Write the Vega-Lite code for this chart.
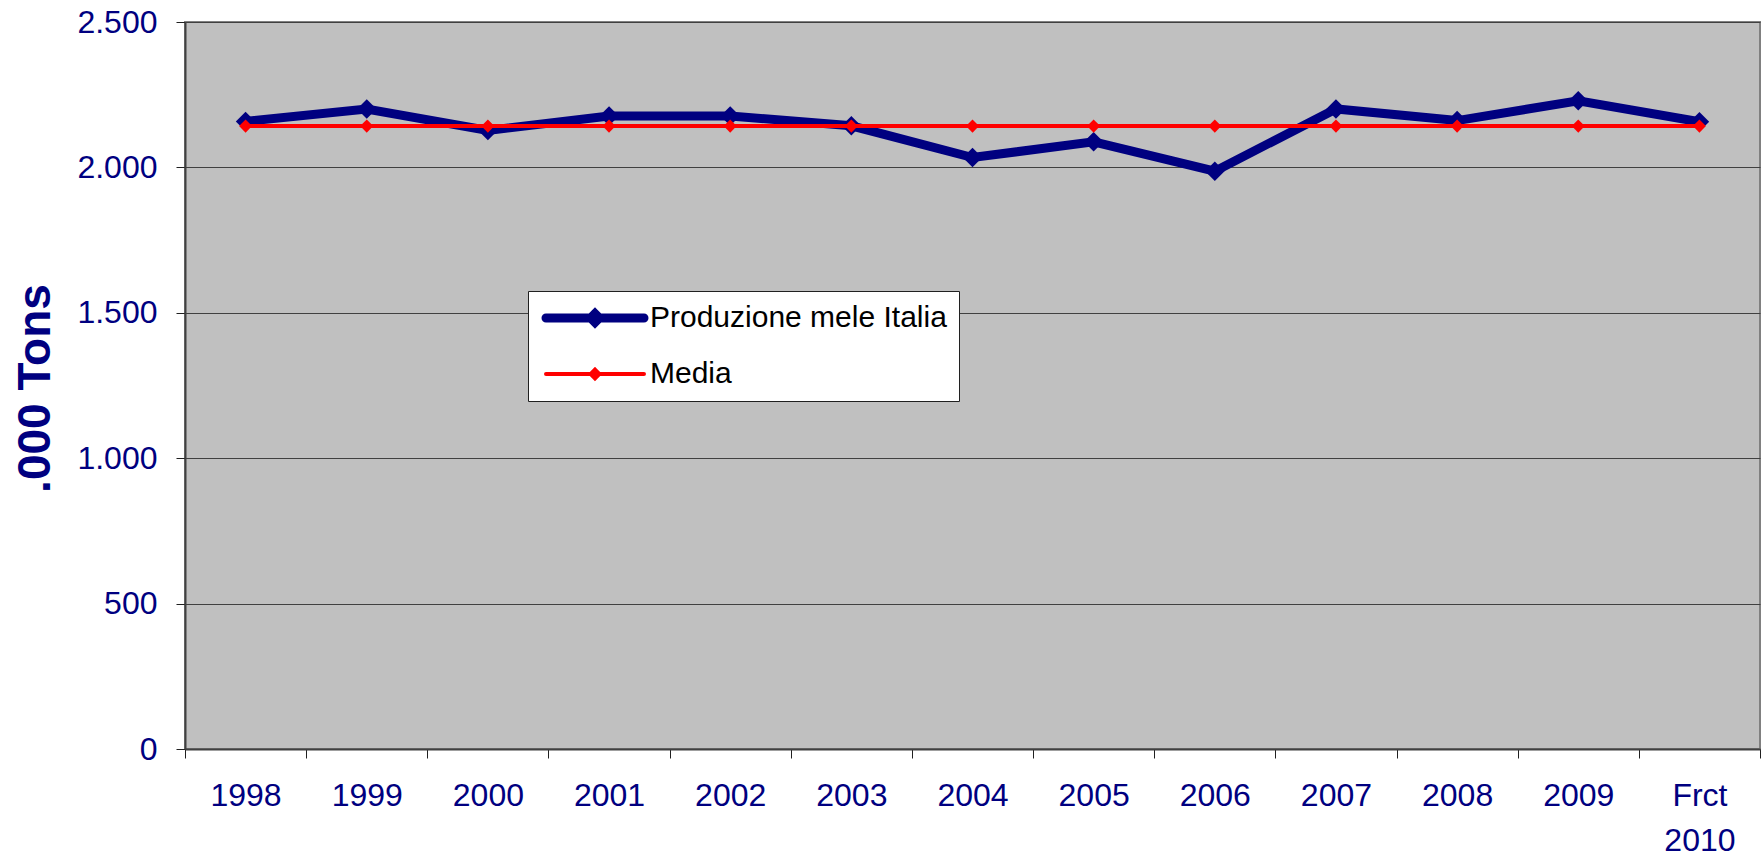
{
  "$schema": "https://vega.github.io/schema/vega-lite/v6.json",
  "autosize": "none",
  "width": 1575,
  "height": 727,
  "padding": {"left": 185, "top": 22, "right": 1, "bottom": 108},
  "background": "white",
  "config": {
    "font": "Liberation Sans",
    "view": {"fill": "#C0C0C0", "stroke": "#808080", "strokeWidth": 2}
  },
  "data": {
    "values": [
      {"year": "1998", "series": "Produzione mele Italia", "value": 2158},
      {"year": "1999", "series": "Produzione mele Italia", "value": 2201},
      {"year": "2000", "series": "Produzione mele Italia", "value": 2127},
      {"year": "2001", "series": "Produzione mele Italia", "value": 2177},
      {"year": "2002", "series": "Produzione mele Italia", "value": 2177},
      {"year": "2003", "series": "Produzione mele Italia", "value": 2143},
      {"year": "2004", "series": "Produzione mele Italia", "value": 2034},
      {"year": "2005", "series": "Produzione mele Italia", "value": 2088},
      {"year": "2006", "series": "Produzione mele Italia", "value": 1987},
      {"year": "2007", "series": "Produzione mele Italia", "value": 2201},
      {"year": "2008", "series": "Produzione mele Italia", "value": 2161},
      {"year": "2009", "series": "Produzione mele Italia", "value": 2229},
      {"year": "Frct 2010", "series": "Produzione mele Italia", "value": 2157},
      {"year": "1998", "series": "Media", "value": 2142},
      {"year": "1999", "series": "Media", "value": 2142},
      {"year": "2000", "series": "Media", "value": 2142},
      {"year": "2001", "series": "Media", "value": 2142},
      {"year": "2002", "series": "Media", "value": 2142},
      {"year": "2003", "series": "Media", "value": 2142},
      {"year": "2004", "series": "Media", "value": 2142},
      {"year": "2005", "series": "Media", "value": 2142},
      {"year": "2006", "series": "Media", "value": 2142},
      {"year": "2007", "series": "Media", "value": 2142},
      {"year": "2008", "series": "Media", "value": 2142},
      {"year": "2009", "series": "Media", "value": 2142},
      {"year": "Frct 2010", "series": "Media", "value": 2142}
    ]
  },
  "encoding": {
    "x": {
      "field": "year",
      "type": "nominal",
      "sort": null,
      "scale": {"type": "band", "paddingInner": 0, "paddingOuter": 0},
      "axis": {
        "title": null,
        "labelAngle": 0,
        "tickBand": "extent",
        "grid": false,
        "domain": true,
        "domainColor": "#404040",
        "domainWidth": 2,
        "tickColor": "#202020",
        "tickSize": 9,
        "tickWidth": 1,
        "labelColor": "#000080",
        "labelFontSize": 32,
        "labelFont": "Liberation Sans",
        "labelPadding": 22,
        "labelBaseline": "top",
        "labelLineHeight": 45,
        "labelExpr": "split(datum.label, ' ')"
      }
    },
    "y": {
      "field": "value",
      "type": "quantitative",
      "scale": {"domain": [0, 2500], "nice": false, "zero": true},
      "axis": {
        "values": [0, 500, 1000, 1500, 2000, 2500],
        "title": ".000 Tons",
        "titleFontSize": 46,
        "titleFontWeight": "bold",
        "titleColor": "#000080",
        "titleFont": "Liberation Sans",
        "titleX": -150,
        "titleY": 366,
        "titleAngle": -90,
        "titleAlign": "center",
        "titleBaseline": "middle",
        "grid": true,
        "gridColor": "#404040",
        "gridWidth": 1,
        "domain": true,
        "domainColor": "#404040",
        "domainWidth": 2,
        "tickColor": "#202020",
        "tickSize": 9,
        "labelColor": "#000080",
        "labelFontSize": 32,
        "labelFont": "Liberation Sans",
        "labelPadding": 19,
        "labelExpr": "replace(format(datum.value, ','), ',', '.')"
      }
    },
    "color": {
      "field": "series",
      "type": "nominal",
      "scale": {"domain": ["Produzione mele Italia", "Media"], "range": ["#000080", "#FF0000"]},
      "legend": {
        "title": null,
        "orient": "none",
        "legendX": 343,
        "legendY": 269,
        "fillColor": "white",
        "strokeColor": "#202020",
        "padding": 12,
        "rowPadding": 18,
        "symbolType": "M-4.9,0H4.9M0,-0.43L0.43,0L0,0.43L-0.43,0Z",
        "symbolSize": 400,
        "symbolOffset": 40,
        "labelOffset": 40,
        "labelFontSize": 30,
        "labelColor": "black",
        "labelFont": "Liberation Sans",
        "labelLimit": 600,
        "encode": {
          "symbols": {
            "update": {
              "fill": {"scale": "color", "field": "value"},
              "strokeCap": {"value": "round"}
            }
          }
        }
      }
    },
    "strokeWidth": {
      "field": "series",
      "type": "nominal",
      "scale": {"type": "ordinal", "domain": ["Produzione mele Italia", "Media"], "range": [9, 4]}
    }
  },
  "layer": [
    {
      "transform": [{"filter": "datum.series === 'Produzione mele Italia'"}],
      "mark": {"type": "line", "strokeJoin": "miter", "point": {"filled": true, "shape": "diamond", "size": 380, "opacity": 1}}
    },
    {
      "transform": [{"filter": "datum.series === 'Media'"}],
      "mark": {"type": "line", "point": {"filled": true, "shape": "diamond", "size": 170, "opacity": 1}}
    }
  ]
}
